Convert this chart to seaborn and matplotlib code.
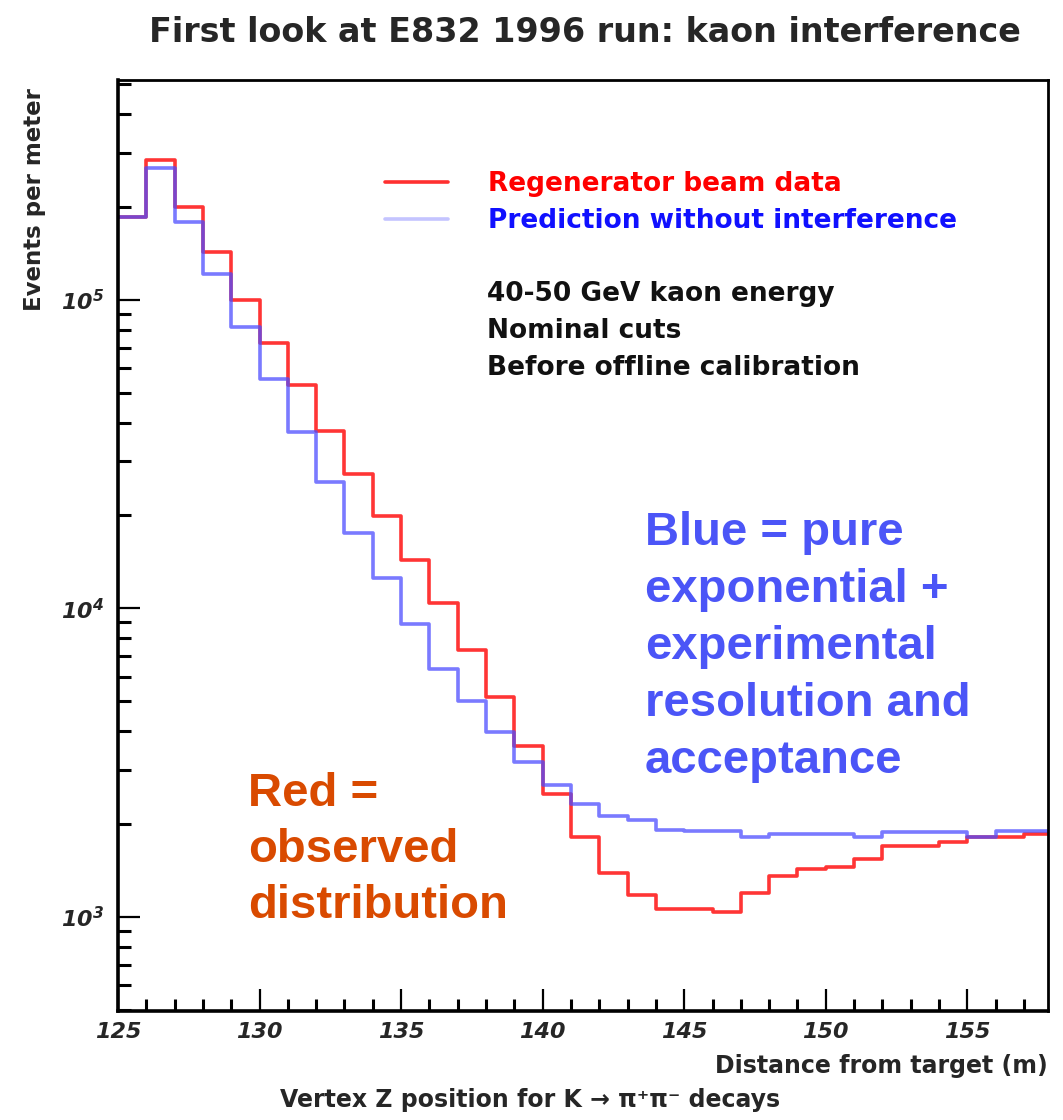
import numpy as np
import pandas as pd
import seaborn as sns
import matplotlib.pyplot as plt
from matplotlib.ticker import MultipleLocator, LogLocator, NullFormatter

# 1 m bins, left edges (m)
bin_left = list(range(125, 158))

# events per meter, regenerator beam data (red)
observed = [186000, 284000, 200000, 143000, 100000, 72600, 53000, 37600, 27200, 19900,
            14300, 10400, 7310, 5150, 3570, 2500, 1815, 1390, 1180, 1062,
            1062, 1038, 1197, 1360, 1430, 1450, 1540, 1700, 1690, 1750,
            1815, 1815, 1857]

# prediction without interference (blue)
predicted = [186000, 267000, 179000, 121000, 81800, 55500, 37400, 25600, 17600, 12500,
             8870, 6350, 5000, 3970, 3180, 2680, 2320, 2120, 2060, 1914,
             1898, 1898, 1815, 1857, 1857, 1857, 1815, 1884, 1884, 1884,
             1815, 1898, 1898]

blue_note = ["Blue = pure", "exponential +", "experimental", "resolution and", "acceptance"]
red_note = ["Red =", "observed", "distribution"]
cuts_note = ["40-50 GeV kaon energy", "Nominal cuts", "Before offline calibration"]

df_obs = pd.DataFrame({"z": np.array(bin_left) + 0.5, "events": observed})
df_pred = pd.DataFrame({"z": np.array(bin_left) + 0.5, "events": predicted})
edges = bin_left + [bin_left[-1] + 1]

sns.set_style("white")
plt.rcParams["font.family"] = ["DejaVu Sans"]
plt.rcParams["mathtext.default"] = "regular"
slide_font = ["Liberation Sans", "DejaVu Sans"]

W, H = 1063, 1120
fig = plt.figure(figsize=(W / 100, H / 100), dpi=100)
ax = fig.add_axes([118 / W, 1 - 1011 / H, 930 / W, 931 / H])

sns.histplot(data=df_obs, x="z", weights="events", bins=edges, element="step", fill=False,
             color="#ff1f1f", linewidth=2.6, alpha=0.9, ax=ax, label="Regenerator beam data")
sns.histplot(data=df_pred, x="z", weights="events", bins=edges, element="step", fill=False,
             color="#4d4dff", linewidth=2.6, alpha=0.75, ax=ax, label="Prediction without interference")

ax.set_yscale("log")
ax.set_xlim(125, 157.85)
ax.set_ylim(495, 5.16e5)

ax.xaxis.set_major_locator(MultipleLocator(5))
ax.xaxis.set_minor_locator(MultipleLocator(1))
ax.yaxis.set_major_locator(LogLocator(base=10))
ax.yaxis.set_minor_locator(LogLocator(base=10, subs=np.arange(2, 10)))
ax.yaxis.set_minor_formatter(NullFormatter())
ax.tick_params(which="both", direction="in", bottom=True, left=True, top=False, right=False,
               width=1.6, color="black")
ax.tick_params(which="major", length=16)
ax.tick_params(which="minor", length=9, width=2.2)
ax.tick_params(axis="x", labelsize=16, pad=8)
ax.tick_params(axis="y", labelsize=16, pad=10)
for lab in ax.get_xticklabels() + ax.get_yticklabels():
    lab.set_fontweight("bold")
    lab.set_fontstyle("italic")

for sp in ax.spines.values():
    sp.set_color("black")
    sp.set_linewidth(2)
ax.spines["left"].set_linewidth(2.6)
ax.spines["bottom"].set_linewidth(2.6)

ax.set_xlabel("")
ax.set_ylabel("")

leg = ax.legend(loc="upper left", bbox_to_anchor=(0.287, 0.902), frameon=False,
                prop={"size": 19, "weight": "bold"}, handlelength=2.4,
                handletextpad=1.5, labelspacing=0.42, borderpad=0, borderaxespad=0)
for txt, col in zip(leg.get_texts(), ["#ff0000", "#1010ff"]):
    txt.set_color(col)
leg_lines = leg.get_lines()
leg_lines[0].set_color("#ff3030")
leg_lines[1].set_color("#c4c4ff")
for ln in leg_lines:
    ln.set_alpha(1)
    ln.set_linewidth(2.6)


def fx(px):
    return px / W


def fy(py):
    return 1 - py / H


for i, s in enumerate(cuts_note):
    fig.text(fx(487), fy(301 + 37 * i), s, fontsize=19, fontweight="bold",
             color="#111111", va="baseline", ha="left")

for i, s in enumerate(blue_note):
    fig.text(fx(645), fy(545 + 57 * i), s, fontsize=34, fontweight="bold",
             color="#4b55f7", va="baseline", ha="left", family=slide_font)

for i, s in enumerate(red_note):
    fig.text(fx(248), fy(806 + 56 * i), s, fontsize=34, fontweight="bold",
             color="#d94a00", va="baseline", ha="left", family=slide_font)

fig.text(fx(585), fy(33), "First look at E832 1996 run: kaon interference",
         fontsize=24, fontweight="bold", ha="center", va="center")
fig.text(fx(35), fy(88), "Events per meter", fontsize=16.5, fontweight="bold",
         rotation=90, ha="center", va="top")
fig.text(fx(1048), fy(1066), "Distance from target (m)", fontsize=17,
         fontweight="bold", ha="right", va="center")
fig.text(fx(530), fy(1100), "Vertex Z position for K \u2192 \u03c0\u207a\u03c0\u207b decays",
         fontsize=17, fontweight="bold", ha="center", va="center")

fig.savefig("out.png", dpi=100)
